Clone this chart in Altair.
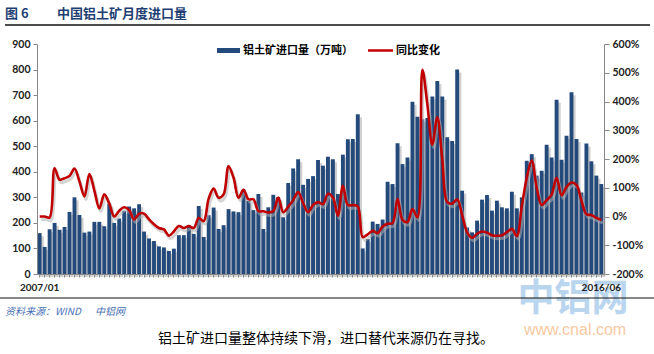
import altair as alt
import pandas as pd

# ---------------- data ----------------
start_year, start_month, n_months = 2007, 1, 114
months = []
y, m = start_year, start_month
for _ in range(n_months):
    months.append(f"{y}/{m:02d}")
    m += 1
    if m > 12:
        m = 1
        y += 1

imports = [160, 106, 175, 200, 173, 184, 243, 300, 231, 162, 166, 204,
           204, 187, 275, 200, 217, 247, 264, 257, 273, 166, 139, 129,
           108, 104, 90, 99, 152, 152, 186, 157, 266, 145, 230, 260,
           176, 191, 254, 245, 242, 330, 286, 250, 313, 176, 261, 310,
           301, 222, 356, 413, 449, 349, 372, 383, 446, 424, 459, 449,
           313, 467, 527, 528, 625, 100, 137, 205, 196, 213, 361, 352,
           512, 430, 456, 674, 615, 606, 610, 695, 755, 695, 535, 520,
           800, 326, 182, 163, 209, 291, 309, 248, 287, 261, 257, 322,
           257, 300, 443, 469, 385, 404, 506, 456, 682, 447, 541, 711,
           528, 319, 511, 441, 385, 352]

yoy = [0, 0, -3, 168, 128, 133, 141, 167, 122, 70, 148, 90,
       28, 77, 45, 0, 20, 32, 22, -10, 10, 10, -10, -27,
       -40, -45, -67, -52, -33, -40, -33, -40, -5, -16, 62, 97,
       65, 77, 175, 135, 65, 93, 60, 60, 19, 18, 14, 18,
       66, 15, 34, 57, 85, 47, 15, 40, 50, 43, 79, 66,
       3, 107, 40, 40, 35, -72, -62, -50, -58, -35, -25, -23,
       62, -12, -19, 26, -3, 510, 390, 250, 345, 200, 50, 45,
       60, 5, -55, -74, -60, -52, -56, -65, -67, -65, -54, -43,
       -68, 35, 135, 195, 100, 40, 57, 76, 135, 74, 103, 118,
       110, 55, 8, 5, -5, -12]

df = pd.DataFrame({"month": months, "imports": imports, "yoy": yoy})

FONT = "Lato"
CJK = "Noto Sans CJK SC"
BAR = "#24497B"
RED = "#C00000"

xscale = alt.Scale(paddingInner=0.22, paddingOuter=0.15)
first, last = months[0], months[-1]

x_axis = alt.Axis(
    title=None, labelExpr=f"datum.value == '{first}' || datum.value == '{last}' ? datum.value : ''",
    labelOverlap=False, labelAngle=0, labelFont=FONT, labelFontWeight="bold", labelFontSize=10,
    labelColor="#222", domainColor="#888", tickColor="#888", tickSize=3, labelPadding=5,
    labelBound=False, labelFlush=False, grid=False, zindex=1)

x_enc = alt.X("month:O", sort=months, scale=xscale, axis=x_axis)

left_scale = alt.Scale(domain=[0, 900], nice=False)
right_scale = alt.Scale(domain=[-200, 600], nice=False)

left_axis = alt.Axis(title=None, orient="left", values=list(range(0, 901, 100)),
                     labelFont=FONT, labelFontWeight="bold", labelFontSize=10.5, labelColor="#222",
                     domainColor="#888", tickColor="#888", tickSize=4, grid=False, labelPadding=3, zindex=1)
right_axis = alt.Axis(title=None, orient="right", values=list(range(-200, 601, 100)),
                      labelExpr="datum.value + '%'",
                      labelFont=FONT, labelFontWeight="bold", labelFontSize=10.5, labelColor="#222",
                      domainColor="#888", tickColor="#888", tickSize=5, grid=False, labelPadding=3, zindex=1)

bar_shadow = alt.Chart(df).mark_bar(color="#C4C4C4", opacity=0.8, xOffset=2.2, yOffset=3).encode(
    x=x_enc, y=alt.Y("imports:Q", scale=left_scale, axis=left_axis))

bars = alt.Chart(df).mark_bar(color=BAR).encode(
    x=x_enc, y=alt.Y("imports:Q", scale=left_scale, axis=left_axis))

left = alt.layer(bar_shadow, bars)

line_shadow = alt.Chart(df).mark_line(color="#B0B0B0", strokeWidth=3, opacity=0.55,
                                      interpolate="catmull-rom", xOffset=1.5, yOffset=3).encode(
    x=x_enc, y=alt.Y("yoy:Q", scale=right_scale, axis=right_axis))

line = alt.Chart(df).mark_line(color=RED, strokeWidth=2.6, interpolate="catmull-rom").encode(
    x=x_enc, y=alt.Y("yoy:Q", scale=right_scale, axis=right_axis))

right = alt.layer(line_shadow, line)

one = pd.DataFrame({"a": [0]})

def txt(text, x, y, size, color="#000", weight="normal", font=CJK, align="left", baseline="alphabetic", style="normal", opacity=1.0):
    return alt.Chart(one).mark_text(text=text, fontSize=size, color=color, fontWeight=weight, font=font,
                                    align=align, baseline=baseline, fontStyle=style, opacity=opacity).encode(
        x=alt.value(x), y=alt.value(y))

def rule(x1, x2, y, color, width):
    return alt.Chart(one).mark_rule(color=color, strokeWidth=width).encode(
        x=alt.value(x1), x2=alt.value(x2), y=alt.value(y))

OX, OY = 37, 44  # plot origin in page pixels

watermark = [
    txt("中铝网", 573 - OX, 300 - OY, 37, color="#A9CCEC", weight="bold", align="center", baseline="middle", opacity=0.8),
    txt("www.cnal.com", 575 - OX, 330 - OY, 16, color="#F6BC8C", font="Liberation Sans", align="center", baseline="middle", opacity=0.8),
]

annotations = [
    txt("图 6", 5 - OX, 18 - OY, 13, color="#1F3F74", weight="bold"),
    txt("中国铝土矿月度进口量", 57 - OX, 18 - OY, 13, color="#1F3F74", weight="bold"),
    rule(5 - OX, 650 - OX, 25 - OY, "#111", 1.5),
    rule(217 - OX, 240 - OX, 50.5 - OY, BAR, 5),
    txt("铝土矿进口量（万吨）", 243 - OX, 51 - OY, 11, weight="bold", baseline="middle"),
    rule(368 - OX, 393 - OX, 50.5 - OY, RED, 2.5),
    txt("同比变化", 396 - OX, 51 - OY, 11, weight="bold", baseline="middle"),
    rule(0 - OX, 654 - OX, 298 - OY, "#111", 1.2),
    txt("资料来源：WIND", 5 - OX, 315 - OY, 10, color="#4A6FB5", style="italic"),
    txt("中铝网", 95 - OX, 315 - OY, 10, color="#4A6FB5", style="italic"),
    txt("铝土矿进口量整体持续下滑，进口替代来源仍在寻找。", 326 - OX, 343 - OY, 14, align="center"),
]

chart = alt.layer(*watermark, left, right, *annotations).resolve_scale(y="independent").properties(
    width=567, height=230,
    padding={"left": OX, "top": OY, "right": 654 - OX - 567, "bottom": 354 - OY - 230},
    autosize=alt.AutoSizeParams(type="none"),
    background="white",
).configure_view(stroke=None)

chart.save("out.html", embed_options={"renderer": "svg", "actions": False})
